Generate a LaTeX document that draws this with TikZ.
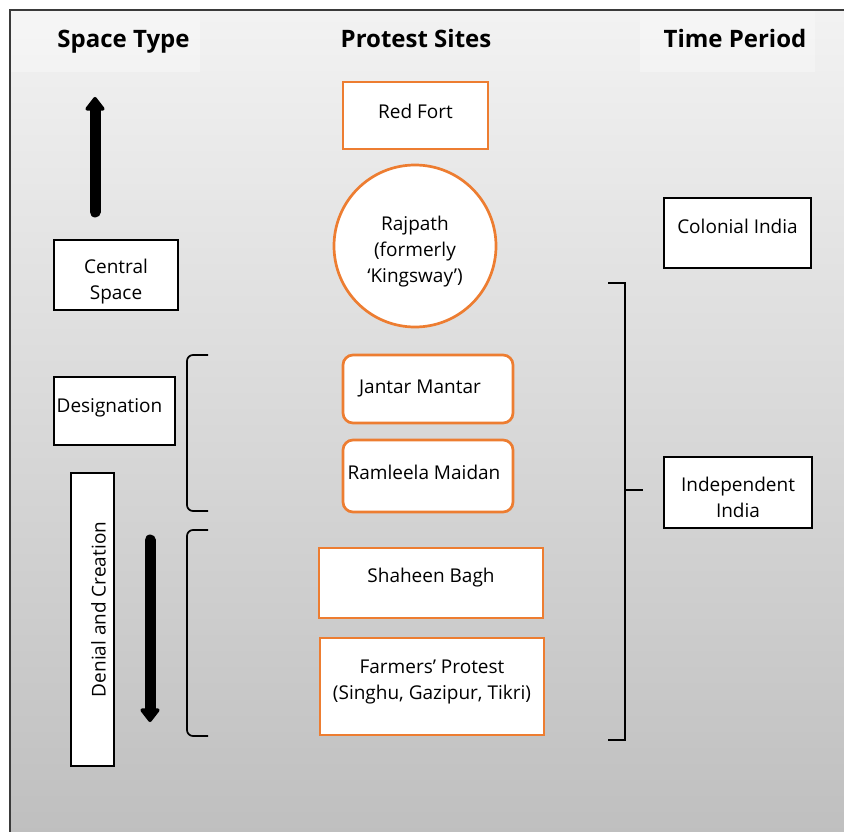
\documentclass[tikz,border=0pt]{standalone}
\usepackage{fontspec}
\setmainfont{Open Sans}
\usepackage{xcolor}
\usetikzlibrary{arrows.meta,positioning,shapes.geometric}

\definecolor{siteorange}{HTML}{ED7D31}
\definecolor{framegray}{HTML}{3A3A3A}

\tikzset{
  header/.style={font=\fontsize{24}{28}\selectfont\bfseries, inner sep=0pt, anchor=base},
  body/.style={font=\fontsize{19}{26}\selectfont, align=center, inner sep=0pt},
  sitebox/.style={draw=siteorange, line width=2.7pt, fill=white, inner sep=0pt},
  typebox/.style={draw=black, line width=1.6pt, fill=white, inner sep=0pt},
  bigarrow/.style={line width=11pt, line cap=round, -{Triangle[width=22pt,length=15pt,round]}},
  bracket/.style={line width=1.7pt}
}

\begin{document}
\begin{tikzpicture}[x=1pt, y=-1pt]
        \useasboundingbox (0, 0) rectangle (844, 832);
        \shade[top color=gray!10, bottom color=gray!50] (10, 10) rectangle (844, 832);
        \fill[white, opacity=0.3] (11, 11) rectangle (200, 72);
        \fill[white, opacity=0.3] (640, 11) rectangle (815, 72);
        \draw[framegray, line width=2pt] (844, 10) -- (10, 10) -- (10, 832);

        \node[header] (spacehead) at (123.5, 47.5) {Space Type};
        \node[header] (sitehead) at (416, 47.5) {Protest Sites};
        \node[header] (timehead) at (735, 47.5) {Time Period};

        % space types
        \draw[bigarrow] (95, 212) -- (95, 97);
        \node[typebox, minimum width=124pt, minimum height=70pt,
              label={[body, yshift=-7pt]center:Central\\Space}] (central) at (116, 275) {};
        \node[typebox, minimum width=121pt, minimum height=68pt,
              label={[body, xshift=-5pt, yshift=3pt]center:Designation}] (designation) at (114.5, 411) {};
        \node[typebox, minimum width=43pt, minimum height=293pt,
              label={[body, xshift=6pt, yshift=10pt, rotate=90]center:Denial and Creation}] (denial) at (92.5, 619.5) {};
        \draw[bigarrow] (150, 540) -- (150, 722);

        % protest sites
        \node[sitebox, minimum width=145pt, minimum height=67pt,
              label={[body, yshift=4pt]center:Red Fort}] (redfort) at (415.5, 115.5) {};
        \node[sitebox, circle, minimum size=162pt,
              label={[body, yshift=-6pt]center:Rajpath\\(formerly\\‘Kingsway’)}] (rajpath) at (415, 246) {};
        \node[sitebox, rounded corners=10pt, minimum width=170pt, minimum height=68pt,
              label={[body, xshift=-8pt]center:Jantar Mantar}] (jantar) at (428, 389) {};
        \node[sitebox, rounded corners=10pt, minimum width=170pt, minimum height=72pt,
              label={[body, xshift=-4pt, yshift=4pt]center:Ramleela Maidan}] (ramleela) at (428, 476) {};
        \node[sitebox, minimum width=224pt, minimum height=70pt,
              label={[body, yshift=5pt]center:Shaheen Bagh}] (shaheen) at (431, 583) {};
        \node[sitebox, minimum width=224pt, minimum height=97pt,
              label={[body, yshift=5pt]center:Farmers’ Protest\\(Singhu, Gazipur, Tikri)}] (farmers) at (432, 686.5) {};

        % time periods
        \node[typebox, minimum width=147pt, minimum height=70pt,
              label={[body, yshift=7pt]center:Colonial India}] (colonial) at (737.5, 233) {};
        \node[typebox, minimum width=148pt, minimum height=71pt,
              label={[body, yshift=-5pt]center:Independent\\India}] (independent) at (738, 492.5) {};

        % brackets
        \draw[bracket, rounded corners=6pt] (208, 355) -- (187, 355) -- (187, 511) -- (208, 511);
        \draw[bracket, rounded corners=6pt] (208, 530) -- (187, 530) -- (187, 736) -- (208, 736);
        \draw[bracket] (608, 283) -- (625, 283) -- (625, 740) -- (608, 740);
        \draw[bracket] (625, 490) -- (643, 490);
\end{tikzpicture}
\end{document}
